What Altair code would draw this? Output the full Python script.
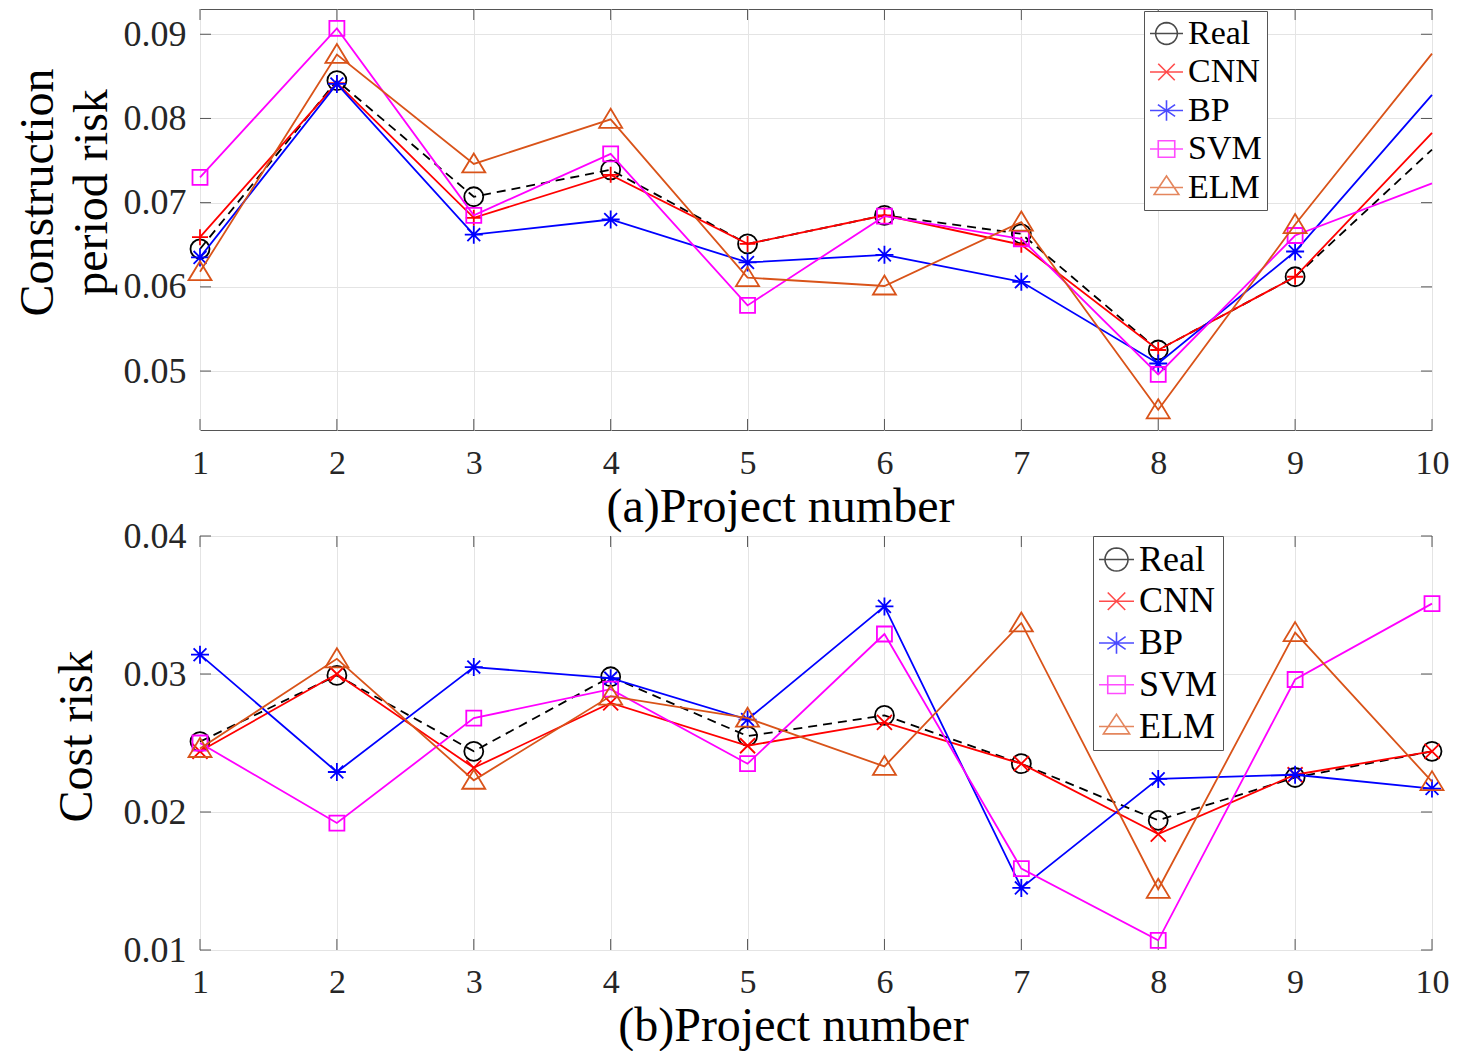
import altair as alt
import pandas as pd
import math

# ---------------- data ----------------
projects = [1, 2, 3, 4, 5, 6, 7, 8, 9, 10]
series = ["Real", "CNN", "BP", "SVM", "ELM"]

# (a) Construction period risk
a_real = [0.0645, 0.0845, 0.0707, 0.0739, 0.0651, 0.0685, 0.0663, 0.0525, 0.0612, 0.0763]
a_cnn = [0.0659, 0.0842, 0.0682, 0.0733, 0.0651, 0.0685, 0.0650, 0.0525, 0.0612, 0.0783]
a_bp = [0.0635, 0.0841, 0.0662, 0.0680, 0.0629, 0.0638, 0.0606, 0.0509, 0.0642, 0.0828]
a_svm = [0.0730, 0.0907, 0.0685, 0.0758, 0.0578, 0.0684, 0.0657, 0.0496, 0.0661, 0.0723]
a_elm = [0.0618, 0.0876, 0.0746, 0.0799, 0.0611, 0.0601, 0.0677, 0.0454, 0.0674, 0.0877]

# (b) Cost risk
b_real = [0.0251, 0.0299, 0.0244, 0.0298, 0.0255, 0.0270, 0.0235, 0.0194, 0.0225, 0.0244]
b_cnn = [0.0244, 0.0300, 0.0232, 0.0279, 0.0248, 0.0265, 0.0235, 0.0184, 0.0227, 0.0244]
b_bp = [0.0314, 0.0229, 0.0305, 0.0297, 0.0267, 0.0349, 0.0145, 0.0224, 0.0227, 0.0217]
b_svm = [0.0250, 0.0192, 0.0268, 0.0289, 0.0235, 0.0329, 0.0159, 0.0107, 0.0296, 0.0351]
b_elm = [0.0246, 0.0311, 0.0223, 0.0284, 0.0268, 0.0233, 0.0337, 0.0144, 0.0330, 0.0222]

a_yticks = [0.05, 0.06, 0.07, 0.08, 0.09]
b_yticks = [0.01, 0.02, 0.03, 0.04]
xticks = projects

# ---------------- styles ----------------
FONT = "Liberation Serif"
colors = ["#000000", "#FF0000", "#0000FF", "#FF00FF", "#D95319"]
W = 1232
H1, H2 = 421, 414
FRAME = "#555555"
GRID = "#e4e4e4"
LW = 1.8


def ring(r, n=28, cx=0.0, cy=0.0):
    pts = [(cx + r * math.cos(2 * math.pi * k / n), cy + r * math.sin(2 * math.pi * k / n)) for k in range(n)]
    return "M" + "L".join(f"{x:.3f},{y:.3f}" for x, y in pts) + "Z"


# marker paths (unit = sqrt(size)/2)
P_PLUS = "M-0.8,0L0.8,0M0,-0.8L0,0.8"
P_X = "M-0.75,-0.75L0.75,0.75M-0.75,0.75L0.75,-0.75"
P_AST = "M-0.9,0L0.9,0M0,-0.9L0,0.9M-0.64,-0.64L0.64,0.64M-0.64,0.64L0.64,-0.64"
P_TRI = "M0,-1.05L1.15,0.85L-1.15,0.85Z"

# legend symbol paths: short line with marker
L_REAL = "M-1,0L1,0" + ring(0.66)
L_CNN = "M-1,0L1,0M-0.5,-0.5L0.5,0.5M-0.5,0.5L0.5,-0.5"
L_BP = "M-1,0L1,0M0,-0.62L0,0.62M-0.52,-0.36L0.52,0.36M-0.52,0.36L0.52,-0.36"
L_SVM = "M-1,0L1,0M-0.5,-0.5L0.5,-0.5L0.5,0.5L-0.5,0.5Z"
L_ELM = "M-1,0L1,0M0,-0.7L0.75,0.42L-0.75,0.42Z"
legend_paths = [L_REAL, L_CNN, L_BP, L_SVM, L_ELM]


def long_df(vals):
    rows = []
    for s, v in zip(series, vals):
        for p, y in zip(projects, v):
            rows.append({"Project": p, "value": y, "series": s})
    return pd.DataFrame(rows)


def panel(vals, ydomain, yticks, H, ytitle, ytx, yty, ylh, xtitle, xtx, xty, xlpad,
          cnn_marker, top_markers_at_end, lgx, lgy, lsize, lrowpad, lfont, loffset, lpad):
    df = long_df(vals)
    xs = alt.Scale(domain=[1, 10], nice=False, zero=False)
    ys = alt.Scale(domain=ydomain, nice=False, zero=False)
    xaxis = alt.Axis(values=xticks, format="d", grid=True, gridColor=GRID, ticks=False, domain=False,
                     labelFont=FONT, labelFontSize=34, labelColor="#262626", labelPadding=xlpad,
                     labelFlush=False, labelOverlap=False,
                     title=xtitle, titleFont=FONT, titleFontSize=48, titleFontWeight="normal",
                     titleColor="#000000", titleX=xtx, titleY=xty, titleBaseline="alphabetic",
                     titleAlign="center")
    yaxis = alt.Axis(values=yticks, format=".2f", grid=True, gridColor=GRID, ticks=False, domain=False,
                     labelFont=FONT, labelFontSize=36, labelColor="#262626", labelPadding=14,
                     labelOverlap=False, labelFlush=False,
                     title=ytitle, titleFont=FONT, titleFontSize=48, titleFontWeight="normal",
                     titleColor="#000000", titleX=ytx, titleY=yty, titleBaseline="alphabetic",
                     titleAlign="center", titleAngle=270, titleLineHeight=ylh)
    X = lambda f: alt.X(f, scale=xs, axis=xaxis)
    Y = lambda f: alt.Y(f, scale=ys, axis=yaxis)
    layers = []
    # ticks inside frame
    xt = pd.DataFrame({"Project": xticks})
    yt = pd.DataFrame({"value": yticks})
    for ya, yb in [(0, 11), (H, H - 11)]:
        layers.append(alt.Chart(xt).mark_rule(color=FRAME, strokeWidth=1).encode(
            x=X("Project:Q"), y=alt.value(ya), y2=alt.value(yb)))
    for xa, xb in [(0, 11), (W, W - 11)]:
        layers.append(alt.Chart(yt).mark_rule(color=FRAME, strokeWidth=1).encode(
            y=Y("value:Q"), x=alt.value(xa), x2=alt.value(xb)))

    markers = [("circle", 361), (cnn_marker, 400), (P_AST, 400), ("square", 225), (P_TRI, 400)]
    for i, s in enumerate(series):
        sub = df[df["series"] == s]
        line_kw = dict(color=colors[i], strokeWidth=LW)
        if s == "Real":
            line_kw["strokeDash"] = [9, 6]
        layers.append(alt.Chart(sub).mark_line(**line_kw).encode(
            x=X("Project:Q"), y=Y("value:Q")))
        psub = sub if top_markers_at_end else sub[sub["Project"] < 10]
        shp, sz = markers[i]
        layers.append(alt.Chart(psub).mark_point(filled=False, color=colors[i], strokeWidth=LW,
                                                 shape=shp, size=sz, opacity=1).encode(
            x=X("Project:Q"), y=Y("value:Q")))
    # legend layer (no marks drawn, only the legend)
    leg = alt.Legend(orient="none", legendX=lgx, legendY=lgy, title=None,
                     labelFont=FONT, labelFontSize=lfont, labelColor="#000000", labelOffset=loffset,
                     symbolSize=lsize, symbolStrokeWidth=1.6, padding=lpad, rowPadding=lrowpad,
                     strokeColor=FRAME, fillColor="#ffffff", symbolFillColor="transparent",
                     labelLimit=300)
    layers.append(alt.Chart(df).transform_filter("datum.value < -1").mark_point(filled=False, strokeWidth=1.6).encode(
        x=X("Project:Q"), y=Y("value:Q"),
        color=alt.Color("series:N", scale=alt.Scale(domain=series, range=colors), legend=leg, sort=series),
        shape=alt.Shape("series:N", scale=alt.Scale(domain=series, range=legend_paths), legend=leg, sort=series)))
    return alt.layer(*layers).properties(width=W, height=H)


top = panel([a_real, a_cnn, a_bp, a_svm, a_elm], [0.043, 0.093], a_yticks, H1,
            ["Construction", "period risk"], -148, 183, 54,
            "(a)Project number", 580, 91, 16,
            P_PLUS, False, 944, 2, 1089, 3.5, 34, 4, 5)
bottom = panel([b_real, b_cnn, b_bp, b_svm, b_elm], [0.01, 0.04], b_yticks, H2,
               "Cost risk", -109, 200, 54,
               "(b)Project number", 593, 90, 15,
               P_X, True, 893, 0, 1225, 4.75, 36, 4, 5)

chart = alt.vconcat(top, bottom, spacing=106, bounds="flush").properties(
    padding={"left": 5, "top": 0, "right": 0, "bottom": 0}, background="white"
).configure_view(stroke=FRAME, strokeWidth=1).resolve_scale(color="independent", shape="independent")

chart.save("out.html", embed_options={"renderer": "svg", "actions": False})
